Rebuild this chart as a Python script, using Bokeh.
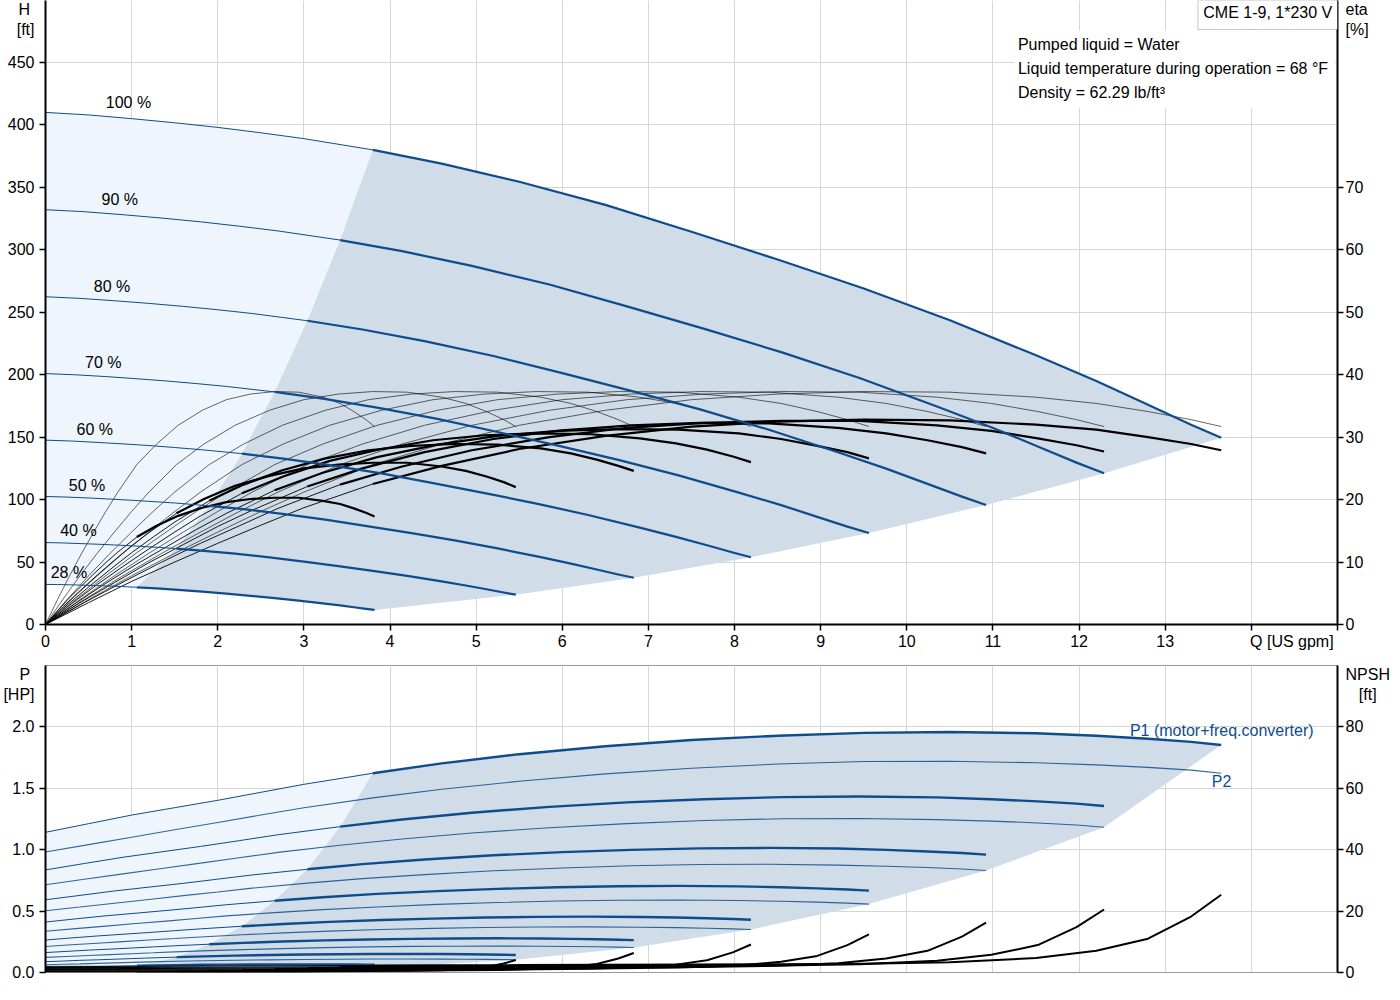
from bokeh.embed import file_html
from bokeh.layouts import column
from bokeh.models import BoxAnnotation, FixedTicker, Label, LinearAxis, PrintfTickFormatter, Range1d
from bokeh.plotting import figure
from bokeh.resources import INLINE

# speed curves (100 % ... 28 %)
speed_labels = ["100 %", "90 %", "80 %", "70 %", "60 %", "50 %", "40 %", "28 %"]

flow = [
    [0, 0.5, 1.0, 1.5, 2.0, 2.5, 3.0, 3.8, 4.6, 5.5, 6.5, 7.5, 8.5, 9.5, 10.5, 11.5, 12.2, 12.8, 13.3, 13.65],
    [0, 0.45, 0.9, 1.35, 1.8, 2.25, 2.7, 3.42, 4.14, 4.95, 5.85, 6.75, 7.65, 8.55, 9.45, 10.35, 10.98, 11.52, 11.97, 12.29],
    [0, 0.4, 0.8, 1.2, 1.6, 2.0, 2.4, 3.04, 3.68, 4.4, 5.2, 6.0, 6.8, 7.6, 8.4, 9.2, 9.76, 10.24, 10.64, 10.92],
    [0, 0.35, 0.7, 1.05, 1.4, 1.75, 2.1, 2.66, 3.22, 3.85, 4.55, 5.25, 5.95, 6.65, 7.35, 8.05, 8.54, 8.96, 9.31, 9.56],
    [0, 0.3, 0.6, 0.9, 1.2, 1.5, 1.8, 2.28, 2.76, 3.3, 3.9, 4.5, 5.1, 5.7, 6.3, 6.9, 7.32, 7.68, 7.98, 8.19],
    [0, 0.25, 0.5, 0.75, 1.0, 1.25, 1.5, 1.9, 2.3, 2.75, 3.25, 3.75, 4.25, 4.75, 5.25, 5.75, 6.1, 6.4, 6.65, 6.83],
    [0, 0.2, 0.4, 0.6, 0.8, 1.0, 1.2, 1.52, 1.84, 2.2, 2.6, 3.0, 3.4, 3.8, 4.2, 4.6, 4.88, 5.12, 5.32, 5.46],
    [0, 0.14, 0.28, 0.42, 0.56, 0.7, 0.84, 1.06, 1.29, 1.54, 1.82, 2.1, 2.38, 2.66, 2.94, 3.22, 3.42, 3.58, 3.72, 3.82],
]

head = [
    [410, 408, 405, 401.7, 398, 393.7, 389, 380, 369, 354.5, 336, 314.5, 292.2, 269, 243.6, 215.5, 195, 176, 160, 149.5],
    [332.1, 330.5, 328.1, 325.4, 322.4, 318.9, 315.1, 307.8, 298.9, 287.1, 272.2, 254.7, 236.7, 217.9, 197.3, 174.6, 158.0, 142.6, 129.6, 121.1],
    [262.4, 261.1, 259.2, 257.1, 254.7, 252.0, 249.0, 243.2, 236.2, 226.9, 215.0, 201.3, 187.0, 172.2, 155.9, 137.9, 124.8, 112.6, 102.4, 95.7],
    [200.9, 199.9, 198.5, 196.8, 195.0, 192.9, 190.6, 186.2, 180.8, 173.7, 164.6, 154.1, 143.2, 131.8, 119.4, 105.6, 95.6, 86.2, 78.4, 73.3],
    [147.6, 146.9, 145.8, 144.6, 143.3, 141.7, 140.0, 136.8, 132.8, 127.6, 121.0, 113.2, 105.2, 96.8, 87.7, 77.6, 70.2, 63.4, 57.6, 53.8],
    [102.5, 102.0, 101.3, 100.4, 99.5, 98.4, 97.3, 95.0, 92.3, 88.6, 84.0, 78.6, 73.1, 67.3, 60.9, 53.9, 48.8, 44.0, 40.0, 37.4],
    [65.6, 65.3, 64.8, 64.3, 63.7, 63.0, 62.2, 60.8, 59.0, 56.7, 53.8, 50.3, 46.8, 43.0, 39.0, 34.5, 31.2, 28.2, 25.6, 23.9],
    [32.1, 32.0, 31.8, 31.5, 31.2, 30.9, 30.5, 29.8, 28.9, 27.8, 26.3, 24.7, 22.9, 21.1, 19.1, 16.9, 15.3, 13.8, 12.5, 11.7],
]

# pump (hydraulic) efficiency, the same at every speed along its own flow list
eta_pump = [0, 4.0, 7.8, 11.4, 14.8, 18.1, 21.2, 25.6, 28.9, 31.9, 34.3, 36.0, 36.9, 37.3, 37.2, 36.4, 35.4, 34.1, 32.8, 31.7]

eta_total = [
    [0, 3.5, 6.9, 10.0, 13.0, 15.9, 18.7, 22.5, 25.4, 28.1, 30.2, 31.7, 32.5, 32.8, 32.7, 32.0, 31.2, 30.0, 28.9, 27.9],
    [0, 3.5, 6.8, 10.0, 13.0, 15.8, 18.6, 22.4, 25.3, 27.9, 30.0, 31.5, 32.3, 32.6, 32.6, 31.9, 31.0, 29.8, 28.7, 27.7],
    [0, 3.5, 6.7, 9.9, 12.8, 15.7, 18.3, 22.1, 25.0, 27.6, 29.7, 31.1, 31.9, 32.3, 32.2, 31.5, 30.6, 29.5, 28.4, 27.4],
    [0, 3.4, 6.6, 9.6, 12.4, 15.2, 17.8, 21.5, 24.3, 26.8, 28.8, 30.2, 31.0, 31.3, 31.2, 30.6, 29.7, 28.6, 27.6, 26.6],
    [0, 3.3, 6.4, 9.3, 12.1, 14.8, 17.4, 21.0, 23.7, 26.2, 28.1, 29.5, 30.3, 30.6, 30.5, 29.8, 29.0, 28.0, 26.9, 26.0],
    [0, 3.1, 6.0, 8.8, 11.5, 14.0, 16.4, 19.8, 22.4, 24.7, 26.6, 27.9, 28.6, 28.9, 28.8, 28.2, 27.4, 26.4, 25.4, 24.6],
    [0, 2.8, 5.4, 7.9, 10.3, 12.6, 14.7, 17.8, 20.1, 22.2, 23.8, 25.0, 25.6, 25.9, 25.9, 25.3, 24.6, 23.7, 22.8, 22.0],
    [0, 2.2, 4.3, 6.2, 8.1, 9.9, 11.6, 14.0, 15.8, 17.4, 18.7, 19.6, 20.1, 20.3, 20.3, 19.8, 19.3, 18.6, 17.9, 17.3],
]

power_p1 = [
    [1.14, 1.21, 1.28, 1.34, 1.40, 1.465, 1.53, 1.62, 1.70, 1.775, 1.84, 1.89, 1.925, 1.948, 1.955, 1.945, 1.925, 1.90, 1.875, 1.85],
    [0.834, 0.886, 0.937, 0.981, 1.025, 1.072, 1.120, 1.186, 1.244, 1.299, 1.347, 1.383, 1.409, 1.426, 1.431, 1.424, 1.409, 1.391, 1.373, 1.354],
    [0.591, 0.627, 0.663, 0.694, 0.725, 0.759, 0.793, 0.839, 0.881, 0.919, 0.953, 0.979, 0.997, 1.009, 1.013, 1.008, 0.997, 0.984, 0.971, 0.958],
    [0.410, 0.436, 0.461, 0.482, 0.504, 0.527, 0.551, 0.583, 0.612, 0.639, 0.662, 0.680, 0.693, 0.701, 0.704, 0.700, 0.693, 0.684, 0.675, 0.666],
    [0.264, 0.281, 0.297, 0.311, 0.325, 0.340, 0.355, 0.376, 0.394, 0.412, 0.427, 0.438, 0.447, 0.452, 0.454, 0.451, 0.447, 0.441, 0.435, 0.429],
    [0.162, 0.172, 0.182, 0.190, 0.199, 0.208, 0.217, 0.230, 0.241, 0.252, 0.261, 0.268, 0.273, 0.277, 0.278, 0.276, 0.273, 0.270, 0.266, 0.263],
    [0.088, 0.093, 0.099, 0.103, 0.108, 0.113, 0.118, 0.125, 0.131, 0.137, 0.142, 0.146, 0.148, 0.150, 0.151, 0.150, 0.148, 0.146, 0.144, 0.142],
    [0.039, 0.041, 0.044, 0.046, 0.048, 0.050, 0.052, 0.055, 0.058, 0.060, 0.063, 0.064, 0.065, 0.066, 0.066, 0.066, 0.065, 0.065, 0.064, 0.063],
]

power_p2 = [
    [0.98, 1.04, 1.10, 1.16, 1.22, 1.28, 1.34, 1.42, 1.49, 1.555, 1.615, 1.66, 1.695, 1.715, 1.718, 1.705, 1.688, 1.668, 1.645, 1.62],
    [0.714, 0.758, 0.802, 0.846, 0.889, 0.933, 0.977, 1.035, 1.086, 1.134, 1.177, 1.210, 1.236, 1.250, 1.252, 1.243, 1.231, 1.216, 1.199, 1.181],
    [0.502, 0.532, 0.563, 0.594, 0.625, 0.655, 0.686, 0.727, 0.763, 0.796, 0.827, 0.850, 0.868, 0.878, 0.880, 0.873, 0.864, 0.854, 0.842, 0.829],
    [0.336, 0.357, 0.377, 0.398, 0.418, 0.439, 0.460, 0.487, 0.511, 0.533, 0.554, 0.569, 0.581, 0.588, 0.589, 0.585, 0.579, 0.572, 0.564, 0.556],
    [0.212, 0.225, 0.238, 0.251, 0.264, 0.276, 0.289, 0.307, 0.322, 0.336, 0.349, 0.359, 0.366, 0.370, 0.371, 0.368, 0.365, 0.360, 0.355, 0.350],
    [0.123, 0.130, 0.138, 0.145, 0.153, 0.160, 0.168, 0.178, 0.186, 0.194, 0.202, 0.208, 0.212, 0.214, 0.215, 0.213, 0.211, 0.209, 0.206, 0.203],
    [0.063, 0.067, 0.070, 0.074, 0.078, 0.082, 0.086, 0.091, 0.095, 0.100, 0.103, 0.106, 0.108, 0.110, 0.110, 0.109, 0.108, 0.107, 0.105, 0.104],
    [0.022, 0.023, 0.024, 0.026, 0.027, 0.028, 0.029, 0.031, 0.033, 0.034, 0.036, 0.037, 0.037, 0.038, 0.038, 0.038, 0.037, 0.037, 0.036, 0.036],
]

npsh = [
    [2.0, 2.0, 2.0, 2.05, 2.1, 2.15, 2.2, 2.3, 2.35, 2.4, 2.5, 2.6, 2.7, 2.85, 3.3, 4.7, 7.1, 11.0, 18.2, 25.3],
    [1.62, 1.62, 1.62, 1.66, 1.70, 1.74, 1.78, 1.86, 1.90, 1.94, 2.03, 2.11, 2.19, 2.31, 2.67, 3.81, 5.75, 8.91, 14.74, 20.49],
    [1.28, 1.28, 1.28, 1.31, 1.34, 1.38, 1.41, 1.47, 1.50, 1.54, 1.60, 1.66, 1.73, 1.82, 2.11, 3.01, 4.54, 7.04, 11.65, 16.19],
    [0.98, 0.98, 0.98, 1.0, 1.03, 1.05, 1.08, 1.13, 1.15, 1.18, 1.23, 1.27, 1.32, 1.40, 1.62, 2.30, 3.48, 5.39, 8.92, 12.40],
    [0.72, 0.72, 0.72, 0.74, 0.76, 0.77, 0.79, 0.83, 0.85, 0.86, 0.90, 0.94, 0.97, 1.03, 1.19, 1.69, 2.56, 3.96, 6.55, 9.11],
    [0.5, 0.5, 0.5, 0.51, 0.53, 0.54, 0.55, 0.58, 0.59, 0.6, 0.63, 0.65, 0.68, 0.71, 0.83, 1.18, 1.78, 2.75, 4.55, 6.33],
    [0.32, 0.32, 0.32, 0.33, 0.34, 0.34, 0.35, 0.37, 0.38, 0.38, 0.4, 0.42, 0.43, 0.46, 0.53, 0.75, 1.14, 1.76, 2.91, 4.05],
    [0.16, 0.16, 0.16, 0.16, 0.16, 0.17, 0.17, 0.18, 0.18, 0.19, 0.2, 0.2, 0.21, 0.22, 0.26, 0.37, 0.56, 0.86, 1.43, 1.98],
]

x_ticks = list(range(16))
x_labels = list(range(14))
h_ticks = [0, 50, 100, 150, 200, 250, 300, 350, 400, 450]
eta_ticks = [0, 10, 20, 30, 40, 50, 60, 70]
p_ticks = [0, 0.5, 1.0, 1.5, 2.0]
npsh_ticks = [0, 20, 40, 60, 80]

# where the text sits (placement only)
label_q = [0.70, 0.65, 0.56, 0.46, 0.36, 0.27, 0.17, 0.06]
label_h = [418, 340, 271, 210, 156, 111, 75, 42]
Q_TITLE_AT, H_TITLE_AT, ETA_TITLE_AT, P_TITLE_AT, NPSH_TITLE_AT = 14.47, 488.6, 97.72, 2.382, 95.2
NB = "\u00a0"

M = 7  # first point of the allowed duty range on every curve
BLUE = "#0f4c8c"
DARK = "#d0dce8"
LIGHT = "#eef5fc"
GRID = "#d6d6d6"
FONT = "Liberation Sans"


def ticks_only(ax, ticks):
    # tick marks drawn as minor ticks, so this axis carries no labels at all
    ax.ticker = FixedTicker(ticks=[], minor_ticks=ticks)
    ax.axis_line_color = "black"
    ax.axis_line_width = 2
    ax.major_tick_out = 6
    ax.major_tick_in = 0
    ax.minor_tick_line_color = "black"
    ax.minor_tick_line_width = 1.5
    ax.minor_tick_out = 6
    ax.minor_tick_in = 0
    ax.major_label_standoff = 0


def labels_only(ax, standoff):
    ax.axis_line_color = None
    ax.major_tick_line_color = None
    ax.major_tick_out = 0
    ax.major_tick_in = 0
    ax.minor_tick_line_color = None
    ax.major_label_text_font = FONT
    ax.major_label_text_font_size = "16px"
    ax.major_label_text_color = "black"
    ax.major_label_standoff = standoff


def label_axis(p, side, ticks, at, title, fmt, range_name=None, standoff=5):
    ax = LinearAxis(ticker=FixedTicker(ticks=ticks + [at]), formatter=PrintfTickFormatter(format=fmt),
                    major_label_overrides={at: title})
    if range_name:
        ax.y_range_name = range_name
    labels_only(ax, standoff)
    p.add_layout(ax, side)


def text(p, x, y, s, align="left", color="black"):
    p.add_layout(Label(x=x, y=y, text=s, text_font=FONT, text_font_size="16px",
                       text_color=color, text_align=align, text_baseline="middle"))


def make_fig(height, y_max, border_bottom):
    p = figure(width=1392, height=height, x_range=Range1d(0, 15), y_range=Range1d(0, y_max),
               output_backend="svg", toolbar_location=None,
               min_border_left=44, min_border_right=53, min_border_top=0,
               min_border_bottom=border_bottom)
    p.title.visible = False
    p.xgrid.ticker = FixedTicker(ticks=x_ticks)
    p.xgrid.grid_line_color = GRID
    p.ygrid.grid_line_color = GRID
    return p


# ---------------- head / efficiency ----------------
top = make_fig(665, 499.6, 41)
top.extra_y_ranges = {"eta": Range1d(0, 99.92)}
top.outline_line_color = None
top.ygrid.ticker = FixedTicker(ticks=h_ticks)
ticks_only(top.yaxis[0], h_ticks)
ticks_only(top.xaxis[0], x_ticks)
eta_axis = LinearAxis(y_range_name="eta")
ticks_only(eta_axis, eta_ticks)
top.add_layout(eta_axis, "right")
label_axis(top, "left", h_ticks, H_TITLE_AT, "H" + NB + "\n[ft]", "%d")
label_axis(top, "right", eta_ticks, ETA_TITLE_AT, "eta\n[%]", "%d", "eta", 2)
xlab = LinearAxis(ticker=FixedTicker(ticks=x_labels + [Q_TITLE_AT]), formatter=PrintfTickFormatter(format="%d"),
                  major_label_overrides={Q_TITLE_AT: "Q [US gpm]"})
labels_only(xlab, 2)
top.add_layout(xlab, "below")

light_x = flow[0][:M + 1] + [q[M] for q in flow[1:]] + flow[-1][M - 1::-1]
light_y = head[0][:M + 1] + [h[M] for h in head[1:]] + head[-1][M - 1::-1]
top.patch(light_x, light_y, fill_color=LIGHT, line_color=None)
dark_x = flow[0][M:] + [q[-1] for q in flow[1:]] + flow[-1][-2:M - 1:-1] + [q[M] for q in flow[-2:0:-1]]
dark_y = head[0][M:] + [h[-1] for h in head[1:]] + head[-1][-2:M - 1:-1] + [h[M] for h in head[-2:0:-1]]
top.patch(dark_x, dark_y, fill_color=DARK, line_color=None)

for i in range(len(speed_labels)):
    q = flow[i]
    top.line(q, eta_pump, y_range_name="eta", line_color="black", line_alpha=0.75, line_width=0.8)
    top.line(q[:M + 1], eta_total[i][:M + 1], y_range_name="eta", line_color="black", line_width=0.9)
    top.line(q[M:], eta_total[i][M:], y_range_name="eta", line_color="black", line_width=2.2,
             line_join="round")
for i in range(len(speed_labels)):
    q = flow[i]
    top.line(q[:M + 1], head[i][:M + 1], line_color=BLUE, line_width=1)
    top.line(q[M:], head[i][M:], line_color=BLUE, line_width=2.2, line_join="round")
    text(top, label_q[i], label_h[i], speed_labels[i])

top.add_layout(BoxAnnotation(left=11.25, right=14.97, bottom=413.1, top=475.6,
                             fill_color="white", fill_alpha=1, line_color=None))
text(top, 11.29, 464.4, "Pumped liquid = Water")
text(top, 11.29, 445.2, "Liquid temperature during operation = 68 °F")
text(top, 11.29, 425.9, "Density = 62.29 lb/ft³")
top.add_layout(BoxAnnotation(left=13.38, bottom=476.4, fill_color="white", fill_alpha=1,
                             line_color="#444444", line_width=1))
text(top, 14.19, 489.8, "CME 1-9, 1*230 V", align="center")

# ---------------- power / NPSH ----------------
bot = make_fig(319, 2.496, 12)
bot.x_range = top.x_range
bot.extra_y_ranges = {"npsh": Range1d(0, 99.84)}
bot.outline_line_color = "#9a9a9a"
bot.xaxis.visible = False
bot.ygrid.ticker = FixedTicker(ticks=p_ticks)
ticks_only(bot.yaxis[0], p_ticks)
npsh_axis = LinearAxis(y_range_name="npsh")
ticks_only(npsh_axis, npsh_ticks)
bot.add_layout(npsh_axis, "right")
label_axis(bot, "left", p_ticks, P_TITLE_AT, "P" + NB + "\n[HP]", "%.1f")
label_axis(bot, "right", npsh_ticks, NPSH_TITLE_AT, "NPSH\n" + NB * 3 + "[ft]", "%d", "npsh", 2)

bl_x = flow[0][:M + 1] + [q[M] for q in flow[1:]] + [0]
bl_y = power_p1[0][:M + 1] + [p[M] for p in power_p1[1:]] + [power_p1[-1][0]]
bot.patch(bl_x, bl_y, fill_color=LIGHT, line_color=None)
bd_x = flow[0][M:] + [q[-1] for q in flow[1:]] + [q[M] for q in flow[-1:0:-1]]
bd_y = power_p1[0][M:] + [p[-1] for p in power_p2[1:]] + [p[M] for p in power_p1[-1:0:-1]]
bot.patch(bd_x, bd_y, fill_color=DARK, line_color=None)

for i in range(len(speed_labels)):
    q = flow[i]
    bot.line(q, power_p2[i], line_color=BLUE, line_width=1.1, line_alpha=0.85)
    bot.line(q[:M + 1], power_p1[i][:M + 1], line_color=BLUE, line_width=1)
    bot.line(q[M:], power_p1[i][M:], line_color=BLUE, line_width=2.4, line_join="round")
for i in range(len(speed_labels)):
    q = flow[i]
    bot.line(q[:M + 1], npsh[i][:M + 1], y_range_name="npsh", line_color="black", line_width=1)
    bot.line(q[M:], npsh[i][M:], y_range_name="npsh", line_color="black", line_width=2,
             line_join="round")

text(bot, 12.59, 1.967, "P1 (motor+freq.converter)", color=BLUE)
text(bot, 13.54, 1.553, "P2", color=BLUE)

open("out.html", "w").write(file_html(column(top, bot), INLINE))
